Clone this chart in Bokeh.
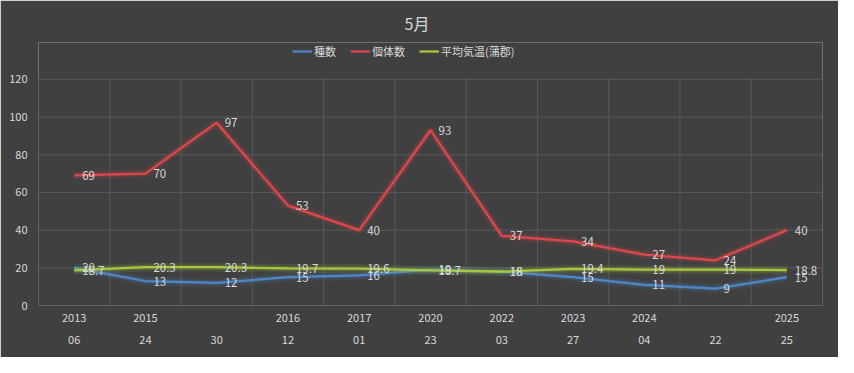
from bokeh.plotting import figure
from bokeh.models import (ColumnDataSource, FixedTicker, LinearAxis, Range1d,
                          Legend, LegendItem, Grid)
from bokeh.core.properties import value
from bokeh.embed import file_html
from bokeh.resources import INLINE

# ---- data ----
years = ["2013", "2015", "", "2016", "2017", "2020", "2022", "2023", "2024", "", "2025"]
days = ["06", "24", "30", "12", "01", "23", "03", "27", "04", "22", "25"]
species = [20, 13, 12, 15, 16, 19, 18, 15, 11, 9, 15]
individuals = [69, 70, 97, 53, 40, 93, 37, 34, 27, 24, 40]
temperature = [18.7, 20.3, 20.3, 19.7, 19.6, 18.7, 18, 19.4, 19, 19, 18.8]
series_names = ["種数", "個体数", "平均気温(蒲郡)"]
y_ticks = [0, 20, 40, 60, 80, 100, 120]

BG = "#404040"
TXT = "#d9d9d9"
GRID = "#595959"
FONT = "Noto Sans CJK JP"
colors = ["#4f86c6", "#dc474c", "#a5c93c"]

# layout (px)
W, H = 838, 357
FRAME_TOP = 41          # frame extends up to include the legend row
AXIS_TOP = 78           # where the value 120 sits
FRAME_BOTTOM = 305
LEGEND_H = 20
frame_h = FRAME_BOTTOM - FRAME_TOP
y_max = y_ticks[-1] * frame_h / (FRAME_BOTTOM - AXIS_TOP)

n = len(days)
xs = [i + 0.5 for i in range(n)]
bounds = list(range(n + 1))

p = figure(width=W, height=H, output_backend="svg", toolbar_location=None,
           x_range=Range1d(0, n), y_range=Range1d(0, y_max),
           x_axis_location=None, y_axis_location=None,
           min_border_left=38, min_border_right=16, min_border_top=FRAME_TOP,
           min_border_bottom=H - FRAME_BOTTOM)
p.background_fill_color = BG
p.border_fill_color = BG
p.outline_line_color = None
p.center = [r for r in p.center if not isinstance(r, Grid)]

p.title.text = "5月"
p.title.align = "left"
p.title.offset = 366
p.title.standoff = 16
p.title.text_color = TXT
p.title.text_font = FONT
p.title.text_font_size = "16px"
p.title.text_font_style = "normal"

# grid lines drawn as glyphs: horizontal value lines and vertical category separators
gx = [[0, n] for _ in y_ticks] + [[b, b] for b in bounds]
gy = [[t, t] for t in y_ticks] + [[y_ticks[0], y_ticks[-1]] for _ in bounds]
p.multi_line(xs=gx, ys=gy, line_color=GRID, line_width=1)

# y axis
yax = LinearAxis(ticker=FixedTicker(ticks=y_ticks))
yax.axis_line_color = None
yax.major_tick_line_color = None
yax.minor_tick_line_color = None
yax.major_tick_out = 0
yax.major_tick_in = 0
yax.major_label_text_color = TXT
yax.major_label_text_font = FONT
yax.major_label_text_font_size = "11px"
yax.major_label_standoff = 11
p.add_layout(yax, "left")

# x axes (year row, then day row)
def make_xaxis(labels, standoff):
    ax = LinearAxis(ticker=FixedTicker(ticks=xs))
    ax.major_label_overrides = {x: (lab if lab else " ") for x, lab in zip(xs, labels)}
    ax.axis_line_color = None
    ax.major_tick_line_color = None
    ax.minor_tick_line_color = None
    ax.major_tick_out = 0
    ax.major_tick_in = 0
    ax.major_label_text_color = TXT
    ax.major_label_text_font = FONT
    ax.major_label_text_font_size = "11px"
    ax.major_label_standoff = standoff
    return ax

p.add_layout(make_xaxis(years, 3), "below")
p.add_layout(make_xaxis(days, 8), "below")

# lines
items = []
for vals, col, name in zip([species, individuals, temperature], colors, series_names):
    src = ColumnDataSource(dict(x=xs, y=vals))
    p.line("x", "y", source=src, line_color=col, line_width=9, line_alpha=0.10)
    p.line("x", "y", source=src, line_color=col, line_width=5, line_alpha=0.18)
    r = p.line("x", "y", source=src, line_color=col, line_width=2.25)
    items.append(LegendItem(label=name, renderers=[r]))

for vals in [species, individuals, temperature]:
    src = ColumnDataSource(dict(x=xs, y=vals, t=[str(v) for v in vals]))
    p.text("x", "y", text="t", source=src, x_offset=8, text_align="left",
           text_baseline="middle", text_color=TXT, text_font=value(FONT),
           text_font_size="11.5px")

legend = Legend(items=items, orientation="horizontal",
                location=(254, frame_h - LEGEND_H + 2))
legend.background_fill_alpha = 0
legend.border_line_color = None
legend.label_text_color = TXT
legend.label_text_font = FONT
legend.label_text_font_size = "11px"
legend.glyph_width = 20
legend.glyph_height = 14
legend.label_standoff = 2
legend.spacing = 14
legend.padding = 2
legend.margin = 0
p.add_layout(legend, "center")

open("out.html", "w").write(file_html(p, INLINE))
